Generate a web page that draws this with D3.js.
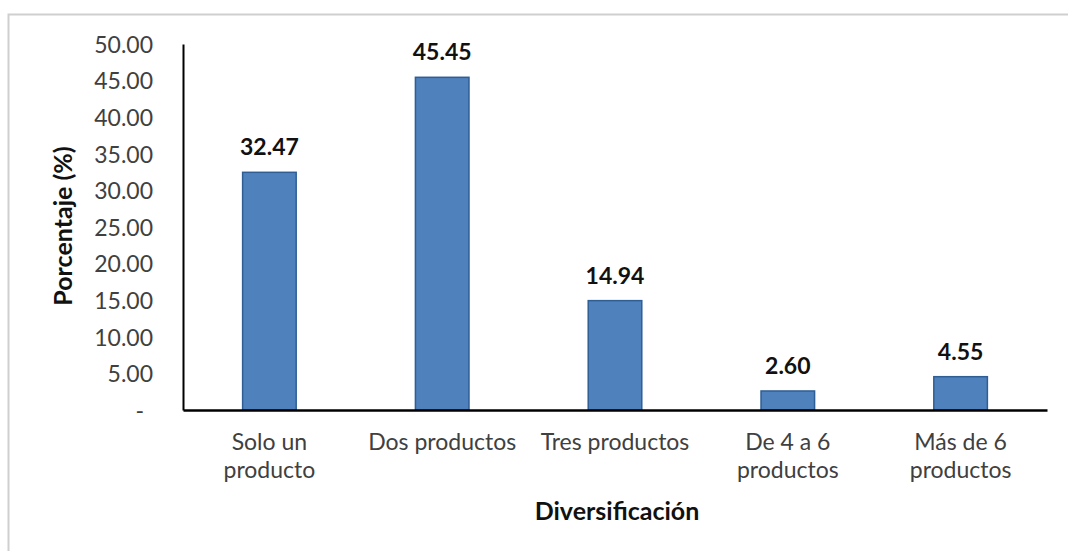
<!DOCTYPE html>
<html>
<head>
<meta charset="utf-8">
<script src="https://cdn.jsdelivr.net/npm/d3@7"></script>
<style>
  body { margin: 0; background: #fff; }
  svg { display: block; }
  .tick text { font-family: Lato, sans-serif; fill: #404040; }
</style>
</head>
<body>
<div id="chart"></div>
<script>
// categories and values (%)
var categories = [["Solo un", "producto"], ["Dos productos"], ["Tres productos"], ["De 4 a 6", "productos"], ["Más de 6", "productos"]];
var values = [32.47, 45.45, 14.94, 2.60, 4.55];
var yTicks = [0, 5, 10, 15, 20, 25, 30, 35, 40, 45, 50];

var W = 1068, H = 551;
var margin = {top: 44, right: 21, bottom: 141, left: 183};
var width = W - margin.left - margin.right,
    height = H - margin.top - margin.bottom;

var svg = d3.select("#chart").append("svg")
  .attr("width", W)
  .attr("height", H);

// outer frame (only left and top show)
svg.append("rect")
  .attr("x", 8.5).attr("y", 14.5)
  .attr("width", W + 20).attr("height", H + 20)
  .attr("fill", "none")
  .attr("stroke", "#cfcfcf")
  .attr("stroke-width", 2);

var g = svg.append("g")
  .attr("transform", "translate(" + margin.left + "," + margin.top + ")");

var x = d3.scaleBand()
  .domain(d3.range(values.length))
  .range([0, width])
  .paddingInner(0.69)
  .paddingOuter(0.345);

var y = d3.scaleLinear().domain([0, 50]).range([height, 0]);

// y axis
var yAxis = d3.axisLeft(y)
  .tickValues(yTicks)
  .tickSize(0)
  .tickPadding(30)
  .tickFormat(function(d) { return d === 0 ? "-" : d3.format(".2f")(d); });

var yG = g.append("g").call(yAxis);
yG.select(".domain").attr("stroke", "#000").attr("stroke-width", 2);
yG.selectAll(".tick text").attr("font-size", 23).attr("dy", "0.36em");
yG.selectAll(".tick text").filter(function(d) { return d === 0; }).attr("dx", -9);

// bars
g.selectAll("rect.bar")
  .data(values)
  .enter()
  .append("rect")
  .attr("class", "bar")
  .attr("x", function(d, i) { return x(i); })
  .attr("y", function(d) { return y(d); })
  .attr("width", x.bandwidth())
  .attr("height", function(d) { return height - y(d); })
  .attr("fill", "#4f81bd")
  .attr("stroke", "#2f5e94")
  .attr("stroke-width", 1.5);

// value labels
g.selectAll("text.val")
  .data(values)
  .enter()
  .append("text")
  .attr("class", "val")
  .attr("x", function(d, i) { return x(i) + x.bandwidth() / 2; })
  .attr("y", function(d) { return y(d) - 17; })
  .attr("text-anchor", "middle")
  .attr("font-family", "Lato, sans-serif")
  .attr("font-weight", "bold")
  .attr("font-size", 23)
  .attr("fill", "#111")
  .text(function(d) { return d3.format(".2f")(d); });

// x axis
var xAxis = d3.axisBottom(x).tickSize(0).tickFormat("");
var xG = g.append("g")
  .attr("transform", "translate(0," + height + ")")
  .call(xAxis);
xG.select(".domain").attr("stroke", "#000").attr("stroke-width", 2.5);

// category labels (wrapped)
xG.selectAll(".tick").each(function(d) {
  var t = d3.select(this).append("text")
    .attr("text-anchor", "middle")
    .attr("font-family", "Lato, sans-serif")
    .attr("font-size", 23)
    .attr("fill", "#404040")
    .attr("x", 0)
    .attr("y", 40);
  categories[d].forEach(function(line, j) {
    t.append("tspan")
      .attr("x", 0)
      .attr("dy", j === 0 ? 0 : 28)
      .text(line);
  });
});

// axis titles
svg.append("text")
  .attr("x", margin.left + width / 2 + 2)
  .attr("y", 520)
  .attr("text-anchor", "middle")
  .attr("font-family", "Lato, sans-serif")
  .attr("font-weight", "bold")
  .attr("font-size", 25)
  .attr("fill", "#111")
  .text("Diversificación");

svg.append("text")
  .attr("transform", "translate(72,226) rotate(-90)")
  .attr("text-anchor", "middle")
  .attr("font-family", "Lato, sans-serif")
  .attr("font-weight", "bold")
  .attr("font-size", 25)
  .attr("fill", "#111")
  .text("Porcentaje (%)");
</script>
</body>
</html>
